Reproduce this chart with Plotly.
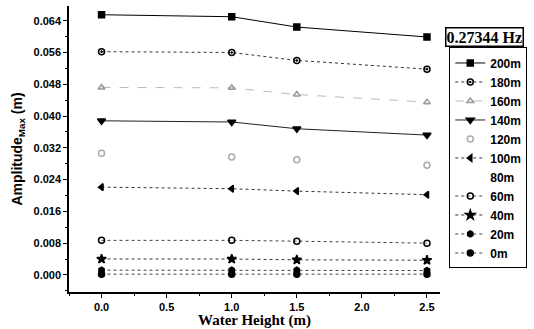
import plotly.graph_objects as go

water_height = [0.0, 1.0, 1.5, 2.5]
series_names = ["200m", "180m", "160m", "140m", "120m", "100m", "80m", "60m", "40m", "20m", "0m"]
amp_200 = [0.0655, 0.0650, 0.0624, 0.0599]
amp_180 = [0.0562, 0.0560, 0.0540, 0.0518]
amp_160 = [0.0472, 0.0471, 0.0454, 0.0435]
amp_140 = [0.0388, 0.0385, 0.0368, 0.0352]
amp_120 = [0.0306, 0.0297, 0.0290, 0.0276]
amp_100 = [0.0221, 0.0217, 0.0211, 0.0202]
amp_80 = [0.0150, 0.0148, 0.0145, 0.0140]
amp_60 = [0.0087, 0.0087, 0.0085, 0.0080]
amp_40 = [0.0040, 0.0040, 0.0038, 0.0037]
amp_20 = [0.0012, 0.0012, 0.0012, 0.0011]
amp_0 = [0.0002, 0.0002, 0.0002, 0.0002]

series_values = [amp_200, amp_180, amp_160, amp_140, amp_120, amp_100,
                 amp_80, amp_60, amp_40, amp_20, amp_0]

styles = [
    dict(symbol="square", color="black", dash="solid", lc="black", size=6),
    dict(symbol="circle-open-dot", color="black", dash="dot", lc="#333", size=6),
    dict(symbol="triangle-up-open", color="#999", dash="dash", lc="#bbb", size=6),
    dict(symbol="triangle-down", color="black", dash="solid", lc="#222", size=7),
    dict(symbol="circle-open", color="#aaa", dash="dot", lc="rgba(0,0,0,0)", size=6),
    dict(symbol="triangle-left", color="black", dash="dot", lc="#333", size=6),
    dict(symbol="circle", color="rgba(0,0,0,0)", dash="dot", lc="rgba(0,0,0,0)", size=6),
    dict(symbol="circle-open", color="black", dash="dot", lc="#444", size=6),
    dict(symbol="star", color="black", dash="dot", lc="#333", size=7),
    dict(symbol="hexagon", color="black", dash="dot", lc="#444", size=6),
    dict(symbol="circle", color="black", dash="dot", lc="#444", size=6),
]

fig = go.Figure()
for name, vals, st in zip(series_names, series_values, styles):
    fig.add_trace(go.Scatter(
        x=water_height, y=vals, name=name, mode="lines+markers",
        line=dict(color=st["lc"], width=1, dash=st["dash"]),
        marker=dict(symbol=st["symbol"], color=st["color"], size=st["size"],
                    line=dict(color=st["color"], width=1.5)),
    ))

axis_common = dict(
    showline=True, linecolor="black", linewidth=1.5, showgrid=False, zeroline=False,
    ticks="outside", ticklen=4, tickcolor="black", tickwidth=1,
    tickfont=dict(family="Liberation Sans", size=11, color="black", weight="bold"),
    mirror=False, automargin=False,
)

fig.update_layout(
    width=534, height=329,
    margin=dict(l=69, r=94, t=6, b=37),
    paper_bgcolor="white", plot_bgcolor="white",
    showlegend=True,
    legend=dict(
        x=1.025, y=0.855, xanchor="left", yanchor="top",
        bordercolor="black", borderwidth=1,
        font=dict(family="Liberation Sans", size=12, color="black", weight="bold"),
        itemwidth=30, tracegroupgap=0,
    ),
    xaxis=dict(
        range=[-0.25, 2.6], dtick=0.5, tick0=0, tickformat=".1f",
        minor=dict(dtick=0.25, ticks="outside", ticklen=2, tickcolor="black"),
        title=dict(text="<b>Water Height (m)</b>", standoff=3,
                   font=dict(family="Liberation Serif", size=15, color="black")),
        **axis_common,
    ),
    yaxis=dict(
        range=[-0.0043, 0.0677], dtick=0.008, tick0=0, tickformat=".3f",
        minor=dict(dtick=0.004, ticks="outside", ticklen=2, tickcolor="black"),
        title=dict(text="<b>Amplitude<sub>Max</sub> (m)</b>", standoff=8,
                   font=dict(family="Liberation Sans", size=14, color="black")),
        **axis_common,
    ),
    annotations=[dict(
        text="<b>0.27344 Hz</b>", xref="paper", yref="paper",
        x=1.013, y=(292 - 37) / 286, xanchor="left", yanchor="middle",
        showarrow=False, bordercolor="black", borderwidth=1.5, borderpad=0,
        font=dict(family="Liberation Serif", size=16, color="black"),
    )],
)

fig.write_html("out.html", config={"displayModeBar": False},
               post_script="document.body.style.margin='0';")
